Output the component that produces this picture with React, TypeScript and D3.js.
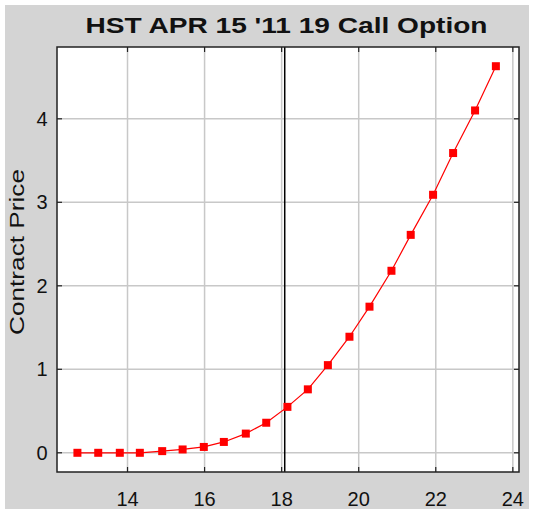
import * as d3 from "d3";
import { useEffect, useRef } from "react";

// strike prices (x)
const strikes = [12.7, 13.24, 13.8, 14.32, 14.9, 15.43, 15.98, 16.5, 17.07, 17.6, 18.15, 18.68, 19.2, 19.76, 20.28, 20.85, 21.35, 21.93, 22.45, 23.02, 23.56];
// contract prices (y)
const prices = [0.0, 0.0, 0.0, 0.0, 0.02, 0.04, 0.07, 0.13, 0.23, 0.36, 0.55, 0.76, 1.05, 1.39, 1.75, 2.18, 2.61, 3.09, 3.59, 4.1, 4.63];
const xTicks = [14, 16, 18, 20, 22, 24];
const yTicks = [0, 1, 2, 3, 4];
const currentPrice = 18.08;
const title = "HST APR 15 '11 19 Call Option";

export default function App() {
  const ref = useRef<SVGSVGElement>(null);

  useEffect(() => {
    const W = 534, H = 514;
    const m = { left: 57, top: 47, right: 519, bottom: 472 };
    const svg = d3.select(ref.current).attr("width", W).attr("height", H);
    svg.selectAll("*").remove();

    svg.append("rect").attr("width", W).attr("height", H).attr("fill", "#fff");
    svg.append("rect").attr("x", 5).attr("y", 5).attr("width", 524).attr("height", 504).attr("fill", "#d4d4d4");

    const x = d3.scaleLinear().domain([12.17, 24.16]).range([m.left, m.right]);
    const y = d3.scaleLinear().domain([-0.23, 4.86]).range([m.bottom, m.top]);

    svg.append("rect")
      .attr("x", m.left).attr("y", m.top)
      .attr("width", m.right - m.left).attr("height", m.bottom - m.top)
      .attr("fill", "#fff");

    const grid = svg.append("g").attr("stroke", "#c8c8c8").attr("stroke-width", 1.5);
    xTicks.forEach(t => {
      grid.append("line").attr("x1", x(t)).attr("x2", x(t)).attr("y1", m.top).attr("y2", m.bottom);
    });
    yTicks.forEach(t => {
      grid.append("line").attr("y1", y(t)).attr("y2", y(t)).attr("x1", m.left).attr("x2", m.right);
    });

    // inward tick marks on all four sides
    const ticks = svg.append("g").attr("stroke", "#222").attr("stroke-width", 1.2);
    xTicks.forEach(t => {
      ticks.append("line").attr("x1", x(t)).attr("x2", x(t)).attr("y1", m.bottom).attr("y2", m.bottom - 5);
      ticks.append("line").attr("x1", x(t)).attr("x2", x(t)).attr("y1", m.top).attr("y2", m.top + 5);
    });
    yTicks.forEach(t => {
      ticks.append("line").attr("y1", y(t)).attr("y2", y(t)).attr("x1", m.left).attr("x2", m.left + 5);
      ticks.append("line").attr("y1", y(t)).attr("y2", y(t)).attr("x1", m.right).attr("x2", m.right - 5);
    });

    svg.append("line")
      .attr("x1", x(currentPrice)).attr("x2", x(currentPrice))
      .attr("y1", m.top).attr("y2", m.bottom)
      .attr("stroke", "#000").attr("stroke-width", 1.5);

    const pts = strikes.map((s, i) => [s, prices[i]] as [number, number]);
    const line = d3.line<[number, number]>().x(d => x(d[0])).y(d => y(d[1]));
    svg.append("path").attr("d", line(pts)).attr("fill", "none").attr("stroke", "#ff0000").attr("stroke-width", 1.2);

    svg.append("g").selectAll("rect").data(pts).enter().append("rect")
      .attr("x", d => x(d[0]) - 4).attr("y", d => y(d[1]) - 4)
      .attr("width", 8).attr("height", 8).attr("fill", "#ff0000");

    svg.append("rect")
      .attr("x", m.left).attr("y", m.top)
      .attr("width", m.right - m.left).attr("height", m.bottom - m.top)
      .attr("fill", "none").attr("stroke", "#222").attr("stroke-width", 1.5);

    const font = "'Liberation Sans', Arial, sans-serif";
    svg.append("g").selectAll("text").data(xTicks).enter().append("text")
      .attr("x", d => x(d)).attr("y", 506)
      .attr("text-anchor", "middle").attr("font-family", font).attr("font-size", 20).attr("fill", "#111")
      .text(d => d);
    svg.append("g").selectAll("text").data(yTicks).enter().append("text")
      .attr("x", 42).attr("y", d => y(d) + 7)
      .attr("text-anchor", "middle").attr("font-family", font).attr("font-size", 20).attr("fill", "#111")
      .text(d => d);

    svg.append("text")
      .attr("transform", "translate(24,252) rotate(-90)")
      .attr("text-anchor", "middle").attr("font-family", font).attr("font-size", 21).attr("fill", "#111")
      .attr("textLength", 166).attr("lengthAdjust", "spacingAndGlyphs")
      .text("Contract Price");

    svg.append("text")
      .attr("x", 286.5).attr("y", 33)
      .attr("text-anchor", "middle").attr("font-family", font).attr("font-size", 22)
      .attr("font-weight", "bold").attr("fill", "#111")
      .attr("textLength", 402).attr("lengthAdjust", "spacingAndGlyphs")
      .text(title);
  }, []);

  return (
    <svg ref={ref} style={{ position: "absolute", left: 0, top: 0, display: "block" }}></svg>
  );
}
